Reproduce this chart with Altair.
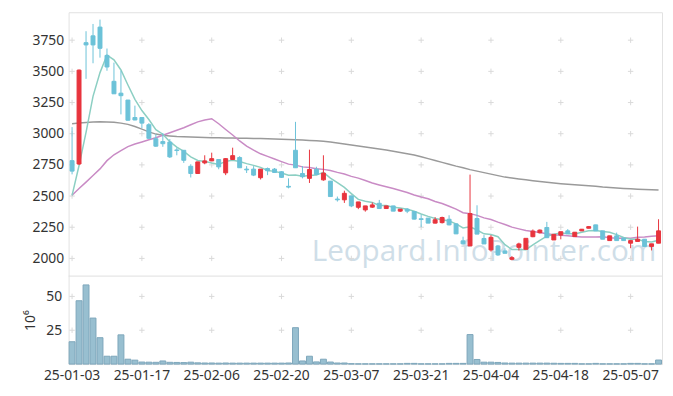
import altair as alt
import pandas as pd

# ---------------- data ----------------
dates = [
    "25-01-03", "25-01-06", "25-01-07", "25-01-08", "25-01-09", "25-01-10", "25-01-13", "25-01-14",
    "25-01-15", "25-01-16", "25-01-17", "25-01-20", "25-01-21", "25-01-22", "25-01-23", "25-01-24",
    "25-01-31", "25-02-03", "25-02-04", "25-02-05", "25-02-06", "25-02-07", "25-02-10", "25-02-11",
    "25-02-12", "25-02-13", "25-02-14", "25-02-17", "25-02-18", "25-02-19", "25-02-20", "25-02-21",
    "25-02-24", "25-02-25", "25-02-26", "25-02-27", "25-02-28", "25-03-04", "25-03-05", "25-03-06",
    "25-03-07", "25-03-10", "25-03-11", "25-03-12", "25-03-13", "25-03-14", "25-03-17", "25-03-18",
    "25-03-19", "25-03-20", "25-03-21", "25-03-24", "25-03-25", "25-03-26", "25-03-27", "25-03-28",
    "25-03-31", "25-04-01", "25-04-02", "25-04-03", "25-04-04", "25-04-07", "25-04-08", "25-04-09",
    "25-04-10", "25-04-11", "25-04-14", "25-04-15", "25-04-16", "25-04-17", "25-04-18", "25-04-21",
    "25-04-22", "25-04-23", "25-04-24", "25-04-25", "25-04-28", "25-04-29", "25-04-30", "25-05-02",
    "25-05-07", "25-05-08", "25-05-09", "25-05-12", "25-05-13",
]
opens = [
    2784, 2757, 3730, 3785, 3855, 3628, 3420, 3325, 3270, 3130,
    3130, 3072, 2960, 2937, 2933, 2870, 2867, 2739, 2681, 2766,
    2782, 2793, 2686, 2793, 2809, 2716, 2716, 2647, 2721, 2716,
    2695, 2578, 2867, 2681, 2642, 2716, 2630, 2620, 2476, 2470,
    2501, 2410, 2389, 2411, 2442, 2400, 2421, 2379, 2395, 2376,
    2318, 2323, 2283, 2287, 2314, 2277, 2141, 2100, 2320, 2160,
    2068, 2100, 2060, 1993, 2089, 2073, 2174, 2206, 2248, 2148,
    2187, 2221, 2175, 2221, 2242, 2269, 2221, 2143, 2181, 2162,
    2122, 2136, 2154, 2096, 2122,
]
highs = [
    3053, 3515, 3822, 3880, 3915, 3683, 3570, 3505, 3270, 3225,
    3130, 3085, 2995, 3005, 2957, 2888, 2867, 2755, 2774, 2827,
    2848, 2795, 2805, 2888, 2820, 2740, 2740, 2716, 2729, 2725,
    2700, 2642, 3095, 2740, 2872, 2735, 2827, 2620, 2496, 2543,
    2501, 2453, 2421, 2448, 2469, 2421, 2421, 2395, 2403, 2376,
    2350, 2323, 2331, 2335, 2346, 2277, 2174, 2672, 2426, 2187,
    2187, 2108, 2081, 2019, 2126, 2161, 2232, 2232, 2293, 2193,
    2214, 2235, 2212, 2236, 2260, 2270, 2221, 2181, 2207, 2165,
    2143, 2255, 2154, 2117, 2314,
]
lows = [
    2674, 2750, 3440, 3565, 3610, 3505, 3320, 3155, 3105, 3108,
    3045, 2960, 2895, 2895, 2805, 2827, 2766, 2649, 2680, 2755,
    2780, 2715, 2668, 2790, 2725, 2685, 2660, 2633, 2668, 2685,
    2645, 2562, 2727, 2642, 2605, 2668, 2623, 2495, 2456, 2445,
    2411, 2395, 2375, 2405, 2400, 2398, 2379, 2372, 2363, 2312,
    2251, 2283, 2280, 2280, 2265, 2195, 2110, 2100, 2195, 2116,
    2055, 2020, 2041, 1985, 2063, 2073, 2170, 2200, 2166, 2148,
    2153, 2197, 2175, 2221, 2240, 2221, 2154, 2143, 2143, 2143,
    2082, 2136, 2096, 2064, 2122,
]
closes = [
    2700, 3510, 3712, 3712, 3685, 3535, 3320, 3305, 3108, 3110,
    3085, 2963, 2900, 2920, 2814, 2865, 2787, 2681, 2774, 2782,
    2800, 2734, 2800, 2824, 2727, 2710, 2668, 2716, 2703, 2689,
    2650, 2572, 2727, 2655, 2713, 2673, 2684, 2496, 2470, 2522,
    2421, 2453, 2421, 2429, 2400, 2421, 2379, 2395, 2379, 2315,
    2312, 2283, 2310, 2328, 2269, 2197, 2117, 2360, 2195, 2116,
    2169, 2028, 2041, 2006, 2116, 2161, 2219, 2227, 2166, 2193,
    2214, 2197, 2210, 2234, 2255, 2221, 2154, 2181, 2143, 2143,
    2143, 2154, 2096, 2117, 2221,
]
ma_short = [
    2505, 2745, 3010, 3300, 3490, 3631, 3593, 3511, 3391, 3276,
    3186, 3114, 3033, 2996, 2936, 2893, 2858, 2814, 2785, 2778,
    2765, 2754, 2778, 2788, 2777, 2760, 2746, 2730, 2705, 2698,
    2685, 2667, 2669, 2659, 2664, 2668, 2690, 2644, 2608, 2569,
    2520, 2473, 2458, 2449, 2425, 2425, 2410, 2405, 2395, 2378,
    2356, 2337, 2320, 2310, 2300, 2277, 2244, 2254, 2228, 2197,
    2191, 2174, 2110, 2071, 2071, 2070, 2108, 2145, 2178, 2193,
    2204, 2199, 2196, 2210, 2222, 2223, 2215, 2209, 2191, 2168,
    2153, 2153, 2136, 2131, 2146,
]
ma_mid = [
    2506, 2560, 2612, 2665, 2718, 2784, 2831, 2865, 2897, 2917,
    2934, 2951, 2968, 2988, 3008, 3028, 3048, 3072, 3095, 3110,
    3120, 3080, 3034, 2990, 2942, 2901, 2868, 2839, 2818, 2797,
    2776, 2756, 2748, 2734, 2729, 2719, 2714, 2705, 2690, 2677,
    2658, 2644, 2625, 2605, 2589, 2574, 2560, 2544, 2528, 2509,
    2492, 2478, 2457, 2440, 2418, 2395, 2366, 2359, 2345, 2325,
    2312, 2291, 2272, 2251, 2237, 2224, 2216, 2207, 2197, 2190,
    2186, 2181, 2176, 2172, 2171, 2172, 2174, 2165, 2162, 2164,
    2162, 2169, 2171, 2177, 2182,
]
ma_long = [
    3080, 3085, 3090, 3093, 3095, 3094, 3091, 3085, 3075, 3058,
    3037, 3015, 2997, 2988, 2982, 2977, 2975, 2973, 2972, 2970,
    2968, 2967, 2966, 2965, 2964, 2963, 2962, 2961, 2960, 2958,
    2956, 2954, 2952, 2949, 2946, 2943, 2939, 2933, 2926, 2918,
    2910, 2902, 2894, 2886, 2878, 2870, 2860, 2850, 2840, 2830,
    2815, 2800, 2785, 2770, 2755, 2740, 2727, 2712, 2700, 2688,
    2676, 2664, 2652, 2644, 2637, 2630, 2623, 2616, 2610, 2604,
    2599, 2594, 2590, 2586, 2582, 2578, 2572, 2568, 2565, 2561,
    2558, 2555, 2552, 2550, 2548,
]
volume = [  # millions
    16.5, 46.8, 58.5, 34.0, 19.5, 5.8, 5.8, 21.6, 3.6, 2.9,
    1.5, 1.4, 1.3, 2.3, 1.3, 1.2, 1.1, 1.4, 0.9, 0.8,
    0.8, 0.7, 0.8, 0.7, 0.7, 0.7, 0.7, 0.7, 0.7, 0.7,
    0.7, 0.8, 26.9, 2.3, 5.8, 1.6, 3.6, 1.5, 0.8, 0.8,
    0.3, 0.2, 0.2, 0.2, 0.2, 0.2, 0.2, 0.2, 0.5, 0.5,
    0.2, 0.2, 0.2, 0.2, 0.5, 0.5, 0.5, 21.8, 3.4, 1.4,
    1.4, 1.2, 0.8, 0.7, 0.7, 0.7, 0.7, 0.7, 0.7, 0.6,
    0.5, 0.5, 0.5, 0.2, 0.2, 0.5, 0.2, 0.2, 0.2, 0.2,
    0.5, 0.5, 0.2, 0.2, 3.0,
]
price_ticks = [2000, 2250, 2500, 2750, 3000, 3250, 3500, 3750]
volume_ticks = [25, 50]
x_label_dates = dates[::10]
watermark = "Leopard.InfoPointer.com"

# ---------------- styling ----------------
W, H = 600.5, 356
MAIN_H = 267
RED, BLUE = "#e8343d", "#6cc2d8"
FONT = "Noto Sans"

df = pd.DataFrame({"d": dates, "o": opens, "h": highs, "l": lows, "c": closes,
                   "ma5": ma_short, "ma20": ma_mid, "mal": ma_long, "v": volume})
df["up"] = df["c"] >= df["o"]
df["top"] = df[["o", "c"]].max(axis=1)
df["bot"] = df[["o", "c"]].min(axis=1)

xscale = alt.Scale(domain=dates, paddingInner=0, paddingOuter=0)
x_axis = alt.Axis(values=x_label_dates, labelAngle=0, title=None, ticks=False, grid=False,
                  domain=False, labelPadding=5, labelOverlap=False, labelFlush=False)
X = alt.X("d:O", scale=xscale, axis=x_axis, title=None)

pscale = alt.Scale(domain=[1858, 3974], range=[MAIN_H, 0], nice=False, zero=False)
p_axis = alt.Axis(values=price_ticks, orient="left", grid=False, ticks=False, format="d",
                  domain=False, labelPadding=5, title=None)
vscale = alt.Scale(domain=[0, 65], range=[H, MAIN_H], nice=False, zero=True)
v_axis = alt.Axis(values=volume_ticks, orient="left", grid=False, ticks=False, format="d",
                  domain=False, labelPadding=7, title="10⁶", titlePadding=8,
                  titleFontWeight="normal", titleFontSize=14, titleColor="#333",
                  titleFont=FONT)


def PY(field):
    return alt.Y(field, scale=pscale, axis=p_axis, title=None)


def VY(field):
    return alt.Y(field, scale=vscale, axis=v_axis, title="10⁶")


cross_shape = "M-1,0H1M0,-1V1"
cross_main = pd.DataFrame([(d, t) for d in x_label_dates for t in price_ticks], columns=["d", "t"])
cross_vol = pd.DataFrame([(d, t) for d in x_label_dates for t in volume_ticks], columns=["d", "t"])

base = alt.Chart(df)
col = alt.condition(alt.datum.up, alt.value(RED), alt.value(BLUE))

wm = alt.Chart(pd.DataFrame({"t": [watermark]})).mark_text(
    align="left", baseline="alphabetic", font="Open Sans", fontSize=30, color="#cfdee8"
).encode(text="t:N", x=alt.value(246), y=alt.value(252))

grid_main = alt.Chart(cross_main).mark_point(
    shape=cross_shape, size=30, filled=False, color="#d9d9d9", strokeWidth=1, opacity=1
).encode(x=X, y=PY("t:Q"))

line_long = base.mark_line(color="#9a9a9a", strokeWidth=1.5).encode(x=X, y=PY("mal:Q"))
line_mid = base.mark_line(color="#c98bc5", strokeWidth=1.5).encode(x=X, y=PY("ma20:Q"))
line_short = base.mark_line(color="#8ccfc3", strokeWidth=1.5).encode(x=X, y=PY("ma5:Q"))

wick = base.mark_rule(strokeWidth=1).encode(x=X, y=PY("l:Q"), y2="h:Q", color=col)
body = base.mark_bar(size=4, strokeWidth=1).encode(x=X, y=PY("top:Q"), y2="bot:Q",
                                                   color=col, stroke=col)

main = alt.layer(wm, grid_main, line_long, line_mid, line_short, wick, body)

grid_vol = alt.Chart(cross_vol).mark_point(
    shape=cross_shape, size=30, filled=False, color="#d9d9d9", strokeWidth=1, opacity=1
).encode(x=X, y=VY("t:Q"))

vol = base.mark_bar(size=6, color="#98bfd0", stroke="#7ea7bb", strokeWidth=1).encode(
    x=X, y=VY("v:Q"))
volume_layer = alt.layer(grid_vol, vol)

sep = alt.Chart(pd.DataFrame({"a": [0]})).mark_rule(color="#e0e0e0", strokeWidth=1).encode(
    y=alt.value(MAIN_H), x=alt.value(0), x2=alt.value(W))

chart = alt.layer(main, volume_layer, sep).resolve_scale(y="independent").properties(
    width=W, height=H,
    autosize=alt.AutoSizeParams(type="none"),
    padding={"left": 61.3, "top": 2, "right": 3, "bottom": 30},
).configure_view(stroke="#e2e2e2", strokeWidth=1).configure_axis(
    labelFont=FONT, labelFontSize=14, labelColor="#333"
)

chart.save("out.html", embed_options={"renderer": "svg", "actions": False})
